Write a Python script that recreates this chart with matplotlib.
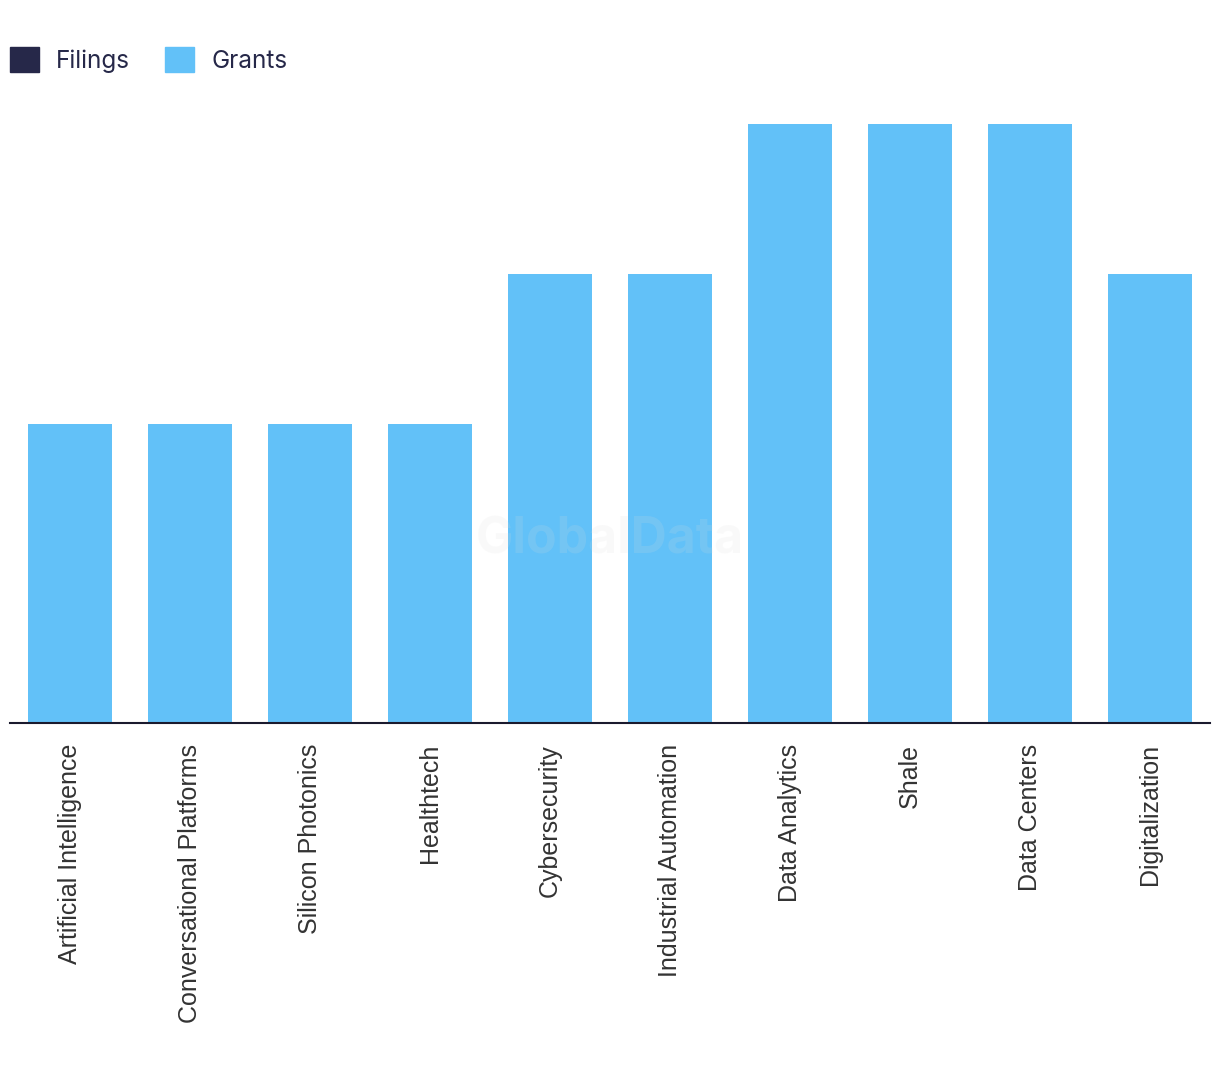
import matplotlib.pyplot as plt
import numpy as np
from matplotlib.patches import Patch

CATEGORIES = ['Artificial Intelligence', 'Conversational Platforms', 'Silicon Photonics',
              'Healthtech', 'Cybersecurity', 'Industrial Automation', 'Data Analytics',
              'Shale', 'Data Centers', 'Digitalization']
FILINGS = [0, 0, 0, 0, 0, 0, 0, 0, 0, 0]
GRANTS = [2, 2, 2, 2, 3, 3, 4, 4, 4, 3]

FILINGS_COLOR = '#262849'
GRANTS_COLOR = '#62c1f8'

plt.rcParams['font.family'] = ['Inter', 'DejaVu Sans']

fig = plt.figure(figsize=(12.2, 10.8), dpi=100)
ax = fig.add_axes([10 / 1220, (1080 - 723) / 1080, 1200 / 1220, (723 - 124) / 1080])

x = np.arange(len(CATEGORIES))
ax.bar(x, FILINGS, width=0.7, color=FILINGS_COLOR)
ax.bar(x, GRANTS, width=0.7, bottom=FILINGS, color=GRANTS_COLOR)

ax.set_xlim(-0.5, len(CATEGORIES) - 0.5)
ax.set_ylim(0, 4)
ax.set_xticks(x)
ax.set_xticklabels(CATEGORIES, rotation=90, fontsize=18, color='#333333',
                   va='top', ha='center', family='Liberation Sans')
ax.tick_params(axis='x', length=0, pad=15)
ax.set_yticks([])
for side in ['top', 'right', 'left']:
    ax.spines[side].set_visible(False)
ax.spines['bottom'].set_color('#1a1a2e')
ax.spines['bottom'].set_linewidth(1.5)

handles = [Patch(color=FILINGS_COLOR), Patch(color=GRANTS_COLOR)]
fig.legend(handles, ['Filings', 'Grants'], loc='upper left', bbox_to_anchor=(-0.006, 0.972),
           ncol=2, frameon=False, fontsize=17.5, handlelength=1.2, handleheight=1.2,
           handletextpad=0.7, columnspacing=1.45, labelcolor='#262849', borderaxespad=0.3)

fig.text(0.5, 0.5, 'GlobalData', fontsize=36, fontweight='bold', color='#dddddd',
         alpha=0.15, ha='center', va='center', zorder=10)

fig.savefig('out.png', dpi=100)
